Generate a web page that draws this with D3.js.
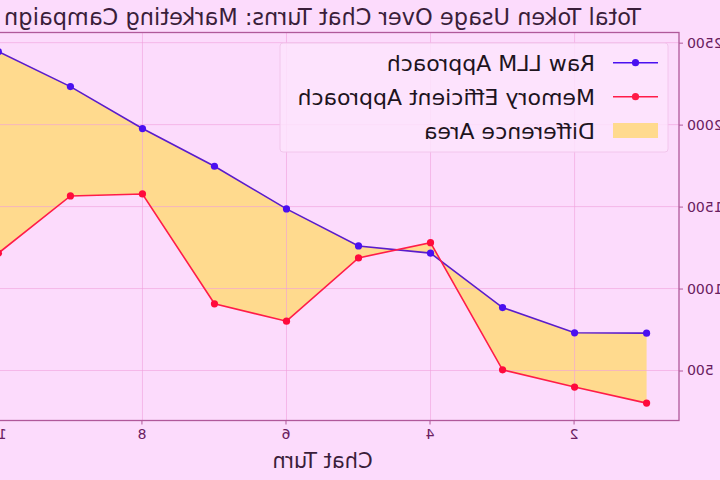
<!DOCTYPE html>
<html>
<head>
<meta charset="utf-8">
<script src="https://cdn.jsdelivr.net/npm/d3@7"></script>
<style>
  html, body { margin: 0; padding: 0; background: #fcdbfc; }
  svg { display: block; font-family: "DejaVu Sans", sans-serif; }
</style>
</head>
<body>
<svg width="720" height="480"></svg>
<script>
// data
var turns = [1, 2, 3, 4, 5, 6, 7, 8, 9, 10];
var rawTokens = [728, 730, 884, 1216, 1260, 1486, 1746, 1976, 2232, 2445];
var memTokens = [301, 399, 504, 1280, 1187, 801, 907, 1577, 1565, 1216];
var xTicks = [2, 4, 6, 8, 10];
var yTicks = [500, 1000, 1500, 2000, 2500];
var legendLabels = ["Raw LLM Approach", "Memory Efficient Approach", "Difference Area"];

var svg = d3.select("svg"),
    width = +svg.attr("width"),
    height = +svg.attr("height");

svg.append("rect").attr("width", width).attr("height", height).attr("fill", "#fcdbfc");

// the reference is drawn mirrored left to right
var g = svg.append("g").attr("transform", "translate(" + width + ",0) scale(-1,1)");

var x = d3.scaleLinear().domain([0.55, 10.45]).range([41, 754]);
var y = d3.scaleLinear().domain([195, 2562]).range([420.5, 32.5]);

var rows = turns.map((t, i) => ({ turn: t, raw: rawTokens[i], mem: memTokens[i] }));

// difference area
g.append("path")
    .datum(rows)
    .attr("fill", "#ffda8e")
    .attr("d", d3.area()
        .x(d => x(d.turn))
        .y0(d => y(d.raw))
        .y1(d => y(d.mem)));

// grid
g.append("g").selectAll("line").data(yTicks).enter().append("line")
    .attr("x1", 41).attr("x2", 754)
    .attr("y1", d => y(d)).attr("y2", d => y(d))
    .attr("stroke", "#f0a0dc").attr("stroke-opacity", 0.6).attr("stroke-width", 1);
g.append("g").selectAll("line").data(xTicks).enter().append("line")
    .attr("y1", 32.5).attr("y2", 420.5)
    .attr("x1", d => x(d)).attr("x2", d => x(d))
    .attr("stroke", "#f0a0dc").attr("stroke-opacity", 0.6).attr("stroke-width", 1);

// lines
var line = key => d3.line().x(d => x(d.turn)).y(d => y(d[key]));
g.append("path").datum(rows).attr("fill", "none")
    .attr("stroke", "#5a1ccc").attr("stroke-width", 1.6).attr("d", line("raw"));
g.append("path").datum(rows).attr("fill", "none")
    .attr("stroke", "#ff1c48").attr("stroke-width", 1.6).attr("d", line("mem"));

g.append("g").selectAll("circle").data(rows).enter().append("circle")
    .attr("cx", d => x(d.turn)).attr("cy", d => y(d.raw)).attr("r", 3.6)
    .attr("fill", "#4a10f0");
g.append("g").selectAll("circle").data(rows).enter().append("circle")
    .attr("cx", d => x(d.turn)).attr("cy", d => y(d.mem)).attr("r", 3.6)
    .attr("fill", "#ff0a3c");

// frame
g.append("rect").attr("x", 41).attr("y", 32.5).attr("width", 713).attr("height", 388)
    .attr("fill", "none").attr("stroke", "#b0589a").attr("stroke-width", 1.3);

// axes
var xAxis = g.append("g").attr("transform", "translate(0,420.5)")
    .call(d3.axisBottom(x).tickValues(xTicks).tickSize(4).tickPadding(5));
var yAxis = g.append("g").attr("transform", "translate(41,0)")
    .call(d3.axisLeft(y).tickValues(yTicks).tickFormat(d3.format("d")).tickSize(4).tickPadding(4));
[xAxis, yAxis].forEach(a => {
    a.select(".domain").remove();
    a.selectAll("line").attr("stroke", "#b0589a");
    a.selectAll("text").attr("fill", "#6a2060")
        .style("font-family", "DejaVu Sans").style("font-size", "14px");
});

// labels
g.append("text").attr("x", 397.5).attr("y", 25).attr("text-anchor", "middle")
    .attr("fill", "#3a1e3a").style("font-size", "22.5px")
    .text("Total Token Usage Over Chat Turns: Marketing Campaign");
g.append("text").attr("x", 397.5).attr("y", 468).attr("text-anchor", "middle")
    .attr("fill", "#3a1e3a").style("font-size", "21px")
    .text("Chat Turn");

// legend
var lg = g.append("g");
lg.append("rect").attr("x", 52).attr("y", 43).attr("width", 388).attr("height", 109)
    .attr("rx", 3).attr("fill", "#fde4fd").attr("fill-opacity", 0.85)
    .attr("stroke", "#f2c6ec");
var rowY = [62.7, 96.7, 130.7];
var handleCol = ["#4a10f0", "#ff1c48"];
[0, 1].forEach(i => {
    lg.append("line").attr("x1", 62).attr("x2", 107).attr("y1", rowY[i]).attr("y2", rowY[i])
        .attr("stroke", handleCol[i]).attr("stroke-width", 1.6);
    lg.append("circle").attr("cx", 84.5).attr("cy", rowY[i]).attr("r", 3.6).attr("fill", handleCol[i]);
});
lg.append("rect").attr("x", 62).attr("y", 123).attr("width", 45).attr("height", 15)
    .attr("fill", "#ffda8e");
lg.selectAll("text.lbl").data(legendLabels).enter().append("text")
    .attr("class", "lbl")
    .attr("x", 125).attr("y", (d, i) => rowY[i] + 8)
    .attr("fill", "#1e141e").style("font-size", "22px")
    .text(d => d);
</script>
</body>
</html>
